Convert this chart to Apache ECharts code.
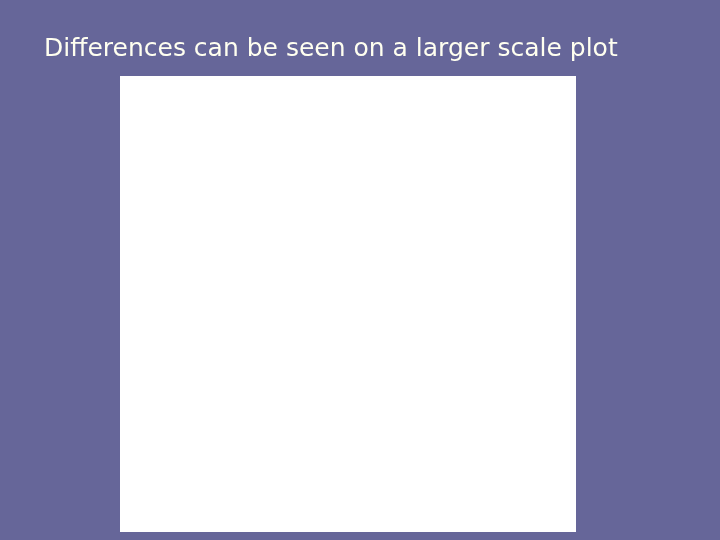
<!DOCTYPE html>
<html>
<head>
<meta charset="utf-8">
<script src="https://cdn.jsdelivr.net/npm/echarts@6/dist/echarts.min.js"></script>
<style>
html, body { margin: 0; padding: 0; background: #666699; }
#main { width: 720px; height: 540px; }
</style>
</head>
<body>
<div id="main"></div>
<script>
// the plot on this slide is empty: no marks are visible
var categories = [];
var values = [];

var chart = echarts.init(document.getElementById('main'));
var option = {
	backgroundColor: '#666699',
	animation: false,
	title: {
		text: 'Differences can be seen on a larger scale plot',
		left: 44,
		top: 37,
		padding: 0,
		textStyle: {
			color: '#fffff0',
			fontFamily: 'DejaVu Sans',
			fontWeight: 'normal',
			fontSize: 25
		}
	},
	grid: {
		show: true,
		left: 120,
		top: 76,
		width: 456,
		height: 456,
		backgroundColor: '#ffffff',
		borderWidth: 0
	},
	xAxis: {
		type: 'category',
		data: categories,
		show: false
	},
	yAxis: {
		type: 'value',
		show: false
	},
	series: [{
		type: 'line',
		data: values
	}]
};
chart.setOption(option);
</script>
</body>
</html>
